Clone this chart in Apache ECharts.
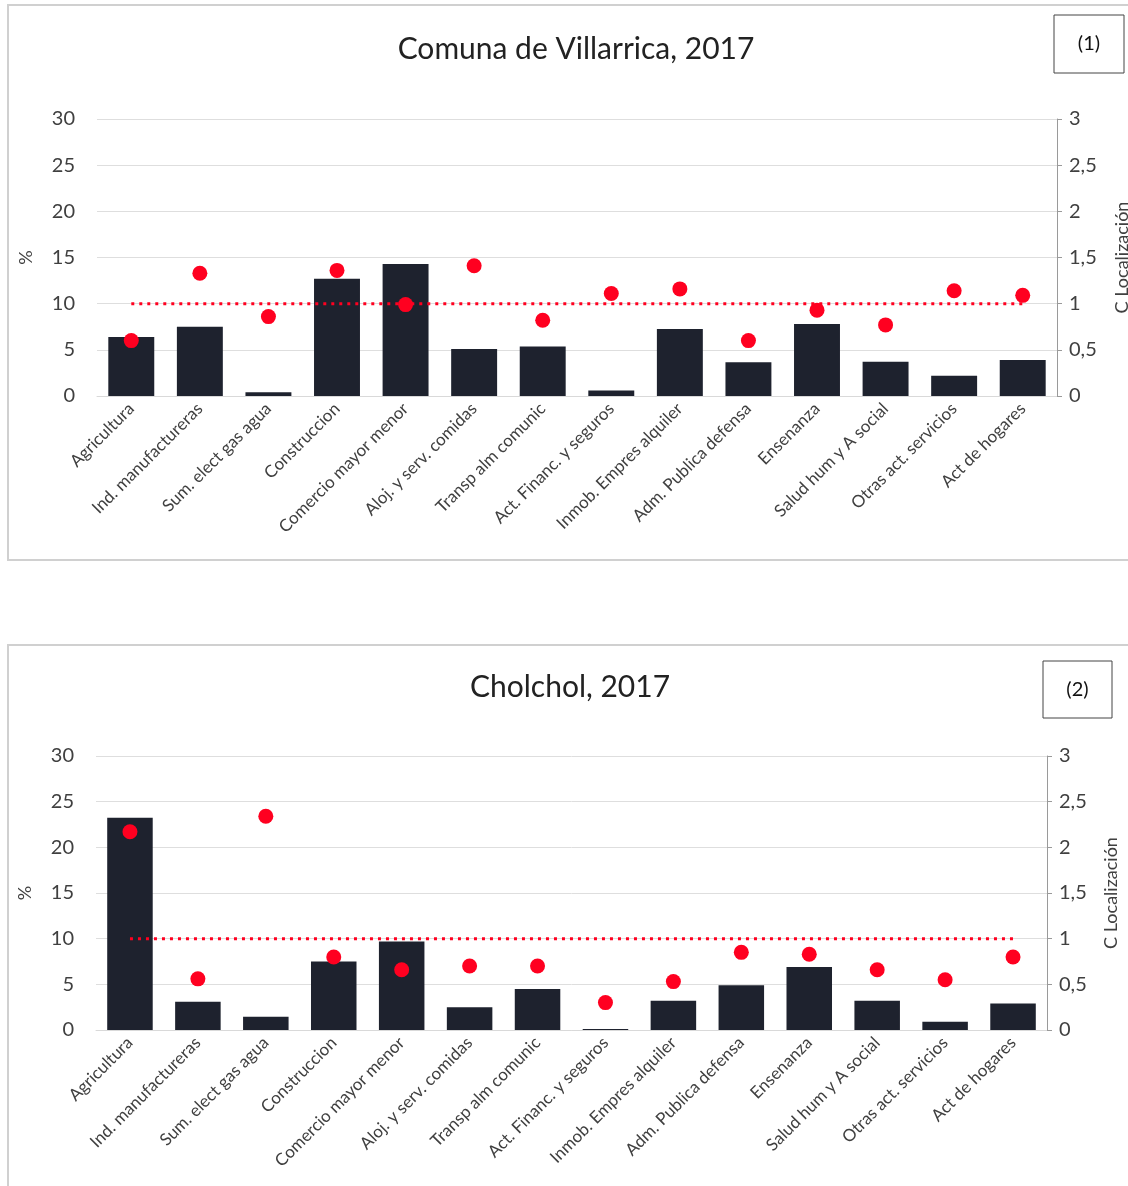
<!DOCTYPE html>
<html>
<head>
<meta charset="utf-8">
<script src="https://cdn.jsdelivr.net/npm/echarts@6/dist/echarts.min.js"></script>
<style>
  html, body { margin: 0; padding: 0; background: #fff; }
  #chart { width: 1128px; height: 1186px; }
</style>
</head>
<body>
<div id="chart"></div>
<script>
const sectors = [
  "Agricultura", "Ind. manufactureras", "Sum. elect gas agua", "Construccion",
  "Comercio mayor menor", "Aloj. y serv. comidas", "Transp alm comunic",
  "Act. Financ. y seguros", "Inmob. Empres alquiler", "Adm. Publica defensa",
  "Ensenanza", "Salud hum y A social", "Otras act. servicios", "Act de hogares",
];

// Villarrica: share of employment (%) and location coefficient
const villarricaPct = [6.4, 7.5, 0.4, 12.7, 14.3, 5.1, 5.35, 0.6, 7.25, 3.65, 7.8, 3.7, 2.2, 3.9];
const villarricaCL = [0.6, 1.33, 0.86, 1.36, 0.99, 1.41, 0.82, 1.11, 1.16, 0.6, 0.93, 0.77, 1.14, 1.09];

// Cholchol
const cholcholPct = [23.25, 3.1, 1.45, 7.5, 9.7, 2.5, 4.5, 0.1, 3.2, 4.9, 6.9, 3.2, 0.9, 2.9];
const cholcholCL = [2.17, 0.56, 2.34, 0.8, 0.66, 0.7, 0.7, 0.3, 0.53, 0.85, 0.83, 0.66, 0.55, 0.8];

// CL = 1 reference
const referenceCL = [1, 1, 1, 1, 1, 1, 1, 1, 1, 1, 1, 1, 1, 1];

const FONT = "Lato";
const barColor = "#1e222e";
const dotColor = "#ff0020";

function xAxisFor(gridIndex) {
  return {
    type: "category",
    gridIndex,
    data: sectors,
    axisLine: { show: true, lineStyle: { color: "#d9d9d9" } },
    axisTick: { show: false },
    axisLabel: {
      rotate: 45,
      interval: 0,
      margin: 10,
      fontFamily: FONT,
      fontSize: 17,
      color: "#404040",
    },
  };
}

function leftAxis(gridIndex) {
  return {
    type: "value",
    gridIndex,
    min: 0,
    max: 30,
    interval: 5,
    name: "%",
    nameLocation: "middle",
    nameRotate: 90,
    nameGap: 62,
    nameTextStyle: { fontFamily: FONT, fontSize: 18, color: "#404040" },
    axisLine: { show: false },
    axisTick: { show: false },
    axisLabel: { fontFamily: FONT, fontSize: 20, color: "#404040", margin: 22 },
    splitLine: { lineStyle: { color: "#dedede", width: 1 } },
  };
}

function rightAxis(gridIndex, gap) {
  return {
    type: "value",
    gridIndex,
    position: "right",
    min: 0,
    max: 3,
    interval: 0.5,
    name: "C Localización",
    nameLocation: "middle",
    nameRotate: 90,
    nameGap: gap,
    nameTextStyle: { fontFamily: FONT, fontSize: 18, color: "#404040" },
    axisLine: { show: true, lineStyle: { color: "#9a9a9a" } },
    axisTick: { show: true, length: 5, lineStyle: { color: "#9a9a9a" } },
    axisLabel: {
      fontFamily: FONT,
      fontSize: 20,
      color: "#404040",
      margin: 12,
      formatter: (v) => String(v).replace(".", ","),
    },
    splitLine: { show: false },
  };
}

function seriesFor(idx, pct, cl) {
  return [
    {
      type: "bar",
      xAxisIndex: idx,
      yAxisIndex: idx * 2,
      data: pct,
      barWidth: "67%",
      itemStyle: { color: barColor },
      z: 2,
    },
    {
      type: "line",
      xAxisIndex: idx,
      yAxisIndex: idx * 2 + 1,
      data: referenceCL,
      symbol: "none",
      lineStyle: { color: dotColor, width: 3, type: [3, 5] },
      z: 3,
    },
    {
      type: "scatter",
      xAxisIndex: idx,
      yAxisIndex: idx * 2 + 1,
      data: cl,
      symbolSize: 15,
      itemStyle: { color: dotColor, opacity: 1 },
      z: 4,
    },
  ];
}

function labelBox(x, y, w, h, text) {
  return [
    {
      type: "rect",
      shape: { x, y, width: w, height: h },
      style: { fill: "#fff", stroke: "#444", lineWidth: 1 },
    },
    {
      type: "text",
      x: x + w / 2,
      y: y + h / 2,
      style: {
        text,
        fontFamily: FONT,
        fontSize: 20,
        fill: "#111",
        align: "center",
        verticalAlign: "middle",
      },
    },
  ];
}

const chart = echarts.init(document.getElementById("chart"));
chart.setOption({
  animation: false,
  backgroundColor: "#fff",
  title: [
    {
      text: "Comuna de Villarrica, 2017",
      left: 571,
      top: 29,
      textAlign: "center",
      textStyle: { fontFamily: FONT, fontSize: 30, fontWeight: "normal", color: "#222" },
    },
    {
      text: "Cholchol, 2017",
      left: 565,
      top: 667,
      textAlign: "center",
      textStyle: { fontFamily: FONT, fontSize: 30, fontWeight: "normal", color: "#222" },
    },
  ],
  graphic: [
    {
      type: "rect",
      shape: { x: 8, y: 5, width: 1130, height: 555 },
      style: { fill: "none", stroke: "#d0d0d0", lineWidth: 2 },
    },
    {
      type: "rect",
      shape: { x: 8, y: 645, width: 1130, height: 560 },
      style: { fill: "none", stroke: "#d0d0d0", lineWidth: 2 },
    },
    ...labelBox(1054, 15, 70, 58, "(1)"),
    ...labelBox(1043, 661, 69, 57, "(2)"),
  ],
  grid: [
    { left: 97, width: 960, top: 119, height: 277, outerBoundsMode: "none" },
    { left: 96, width: 951, top: 756, height: 274, outerBoundsMode: "none" },
  ],
  xAxis: [xAxisFor(0), xAxisFor(1)],
  yAxis: [leftAxis(0), rightAxis(0, 56), leftAxis(1), rightAxis(1, 55)],
  series: [
    ...seriesFor(0, villarricaPct, villarricaCL),
    ...seriesFor(1, cholcholPct, cholcholCL),
  ],
});
</script>
</body>
</html>
